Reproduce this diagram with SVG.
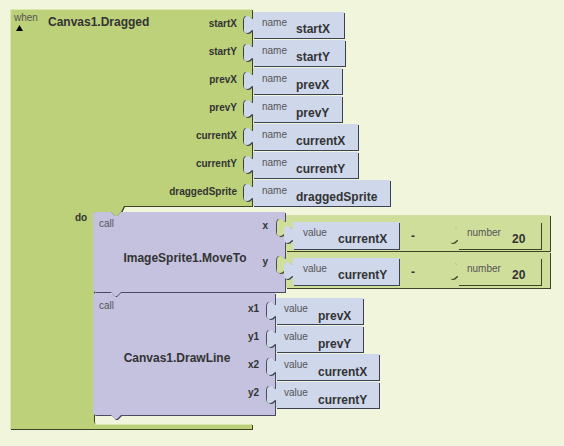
<svg xmlns="http://www.w3.org/2000/svg" width="564" height="446" viewBox="0 0 564 446">
<style>
.bg{fill:#f1f5dc}
.sh{fill:#3e4326}
.shp{fill:#4a4960}
.shb{fill:#3c4152}
.g{fill:#bdd07a}
.g2{fill:#d0de9c}
.p{fill:#c4c2df}
.b{fill:#cfd7eb}
text{font-family:"Liberation Sans",Arial,sans-serif}
.lb{font-size:10px;font-weight:bold;fill:#333}
.sm{font-size:10px;fill:#555}
.vb{font-size:12px;font-weight:bold;fill:#333}
</style>
<defs>
<path id="pMain" d="M10,12 Q10,9 13,9 H252 V19 c-4,0 -3,-3 -6,-3 c-3,0 -3,4 -3,8.5 c0,4.5 0,8.5 3,8.5 c4,0 3,-3 6,-3 V47 c-4,0 -3,-3 -6,-3 c-3,0 -3,4 -3,8.5 c0,4.5 0,8.5 3,8.5 c4,0 3,-3 6,-3 V75 c-4,0 -3,-3 -6,-3 c-3,0 -3,4 -3,8.5 c0,4.5 0,8.5 3,8.5 c4,0 3,-3 6,-3 V103 c-4,0 -3,-3 -6,-3 c-3,0 -3,4 -3,8.5 c0,4.5 0,8.5 3,8.5 c4,0 3,-3 6,-3 V131 c-4,0 -3,-3 -6,-3 c-3,0 -3,4 -3,8.5 c0,4.5 0,8.5 3,8.5 c4,0 3,-3 6,-3 V159 c-4,0 -3,-3 -6,-3 c-3,0 -3,4 -3,8.5 c0,4.5 0,8.5 3,8.5 c4,0 3,-3 6,-3 V187 c-4,0 -3,-3 -6,-3 c-3,0 -3,4 -3,8.5 c0,4.5 0,8.5 3,8.5 c4,0 3,-3 6,-3 V206 H124 L121,212 L117,216 H115 L111,212 H97 Q94,212 94,215 V421 Q94,424 97,424 H252 V429 H10 Z"/>
<path id="pMove" d="M93,215 Q93,212 96,212 H111 L115,216 H117 L121,212 H285 V222 c-4,0 -3,-3 -6,-3 c-3,0 -3,4 -3,8.5 c0,4.5 0,8.5 3,8.5 c4,0 3,-3 6,-3 V259 c-4,0 -3,-3 -6,-3 c-3,0 -3,4 -3,8.5 c0,4.5 0,8.5 3,8.5 c4,0 3,-3 6,-3 V292 H121 L117,296 H115 L111,292 H96 Q93,292 93,289 Z"/>
<path id="pDraw" d="M93,296 Q93,293 96,293 H111 L115,297 H117 L121,293 H275 V305 c-4,0 -3,-3 -6,-3 c-3,0 -3,4 -3,8.5 c0,4.5 0,8.5 3,8.5 c4,0 3,-3 6,-3 V333 c-4,0 -3,-3 -6,-3 c-3,0 -3,4 -3,8.5 c0,4.5 0,8.5 3,8.5 c4,0 3,-3 6,-3 V361 c-4,0 -3,-3 -6,-3 c-3,0 -3,4 -3,8.5 c0,4.5 0,8.5 3,8.5 c4,0 3,-3 6,-3 V389 c-4,0 -3,-3 -6,-3 c-3,0 -3,4 -3,8.5 c0,4.5 0,8.5 3,8.5 c4,0 3,-3 6,-3 V415 H121 L117,419 H115 L111,415 H96 Q93,415 93,412 Z"/>
<path id="pN0" d="M253,12 H344 V38 H253 V30 c-3,0 -2,3 -6,3 c-3,0 -3,-4 -3,-8.5 c0,-4.5 0,-8.5 3,-8.5 c4,0 3,3 6,3 Z"/>
<path id="pN1" d="M253,40 H345 V66 H253 V58 c-3,0 -2,3 -6,3 c-3,0 -3,-4 -3,-8.5 c0,-4.5 0,-8.5 3,-8.5 c4,0 3,3 6,3 Z"/>
<path id="pN2" d="M253,68 H342 V94 H253 V86 c-3,0 -2,3 -6,3 c-3,0 -3,-4 -3,-8.5 c0,-4.5 0,-8.5 3,-8.5 c4,0 3,3 6,3 Z"/>
<path id="pN3" d="M253,96 H342 V122 H253 V114 c-3,0 -2,3 -6,3 c-3,0 -3,-4 -3,-8.5 c0,-4.5 0,-8.5 3,-8.5 c4,0 3,3 6,3 Z"/>
<path id="pN4" d="M253,124 H358 V150 H253 V142 c-3,0 -2,3 -6,3 c-3,0 -3,-4 -3,-8.5 c0,-4.5 0,-8.5 3,-8.5 c4,0 3,3 6,3 Z"/>
<path id="pN5" d="M253,152 H358 V178 H253 V170 c-3,0 -2,3 -6,3 c-3,0 -3,-4 -3,-8.5 c0,-4.5 0,-8.5 3,-8.5 c4,0 3,3 6,3 Z"/>
<path id="pN6" d="M253,180 H390 V206 H253 V198 c-3,0 -2,3 -6,3 c-3,0 -3,-4 -3,-8.5 c0,-4.5 0,-8.5 3,-8.5 c4,0 3,3 6,3 Z"/>
<path id="pS1" d="M286,215 H550 V251 H286 V233 c-3,0 -2,3 -6,3 c-3,0 -3,-4 -3,-8.5 c0,-4.5 0,-8.5 3,-8.5 c4,0 3,3 6,3 Z"/>
<path id="pS2" d="M286,252 H550 V288 H286 V270 c-3,0 -2,3 -6,3 c-3,0 -3,-4 -3,-8.5 c0,-4.5 0,-8.5 3,-8.5 c4,0 3,3 6,3 Z"/>
<path id="pV1" d="M293,222 H399 V249 H293 V240 c-3,0 -2,3 -6,3 c-3,0 -3,-4 -3,-8.5 c0,-4.5 0,-8.5 3,-8.5 c4,0 3,3 6,3 Z"/>
<path id="pU1" d="M458,222 H541 V249 H458 V240 c-3,0 -2,3 -6,3 c-3,0 -3,-4 -3,-8.5 c0,-4.5 0,-8.5 3,-8.5 c4,0 3,3 6,3 Z"/>
<path id="pV2" d="M293,258 H399 V285 H293 V276 c-3,0 -2,3 -6,3 c-3,0 -3,-4 -3,-8.5 c0,-4.5 0,-8.5 3,-8.5 c4,0 3,3 6,3 Z"/>
<path id="pU2" d="M458,258 H541 V285 H458 V276 c-3,0 -2,3 -6,3 c-3,0 -3,-4 -3,-8.5 c0,-4.5 0,-8.5 3,-8.5 c4,0 3,3 6,3 Z"/>
<path id="pD0" d="M276,298 H363 V324 H276 V316 c-3,0 -2,3 -6,3 c-3,0 -3,-4 -3,-8.5 c0,-4.5 0,-8.5 3,-8.5 c4,0 3,3 6,3 Z"/>
<path id="pD1" d="M276,326 H363 V352 H276 V344 c-3,0 -2,3 -6,3 c-3,0 -3,-4 -3,-8.5 c0,-4.5 0,-8.5 3,-8.5 c4,0 3,3 6,3 Z"/>
<path id="pD2" d="M276,354 H379 V380 H276 V372 c-3,0 -2,3 -6,3 c-3,0 -3,-4 -3,-8.5 c0,-4.5 0,-8.5 3,-8.5 c4,0 3,3 6,3 Z"/>
<path id="pD3" d="M276,382 H379 V408 H276 V400 c-3,0 -2,3 -6,3 c-3,0 -3,-4 -3,-8.5 c0,-4.5 0,-8.5 3,-8.5 c4,0 3,3 6,3 Z"/>
</defs>
<rect class="bg" x="0" y="0" width="564" height="446"/>

<g id="canvas1-dragged">
<use href="#pMain" class="sh" transform="translate(1,1)"/>
<use href="#pMain" class="g"/>
<path d="M10.5,428 V12 Q10.5,9.5 13,9.5 H251.5" fill="none" stroke="#dbe7ad" stroke-width="1"/>
<text class="sm" x="14" y="21">when</text>
<polygon points="16,31 19.5,25 23,31" fill="#000"/>
<text class="vb" x="48" y="26">Canvas1.Dragged</text>
<g class="lb" text-anchor="end">
<text x="237" y="27">startX</text>
<text x="237" y="55">startY</text>
<text x="237" y="83">prevX</text>
<text x="237" y="111">prevY</text>
<text x="237" y="139">currentX</text>
<text x="237" y="167">currentY</text>
<text x="237" y="195">draggedSprite</text>
</g>
<text class="lb" x="75" y="221">do</text>
<path d="M95,424.5 H251" fill="none" stroke="#dbe7ad" stroke-width="1"/>
</g>

<g id="name-startX">
<use href="#pN0" class="shb" transform="translate(1,1)"/><use href="#pN0" class="b"/>
<text class="sm" x="262" y="26">name</text><text class="vb" x="296" y="33">startX</text>
</g>
<g id="name-startY">
<use href="#pN1" class="shb" transform="translate(1,1)"/><use href="#pN1" class="b"/>
<text class="sm" x="262" y="54">name</text><text class="vb" x="296" y="61">startY</text>
</g>
<g id="name-prevX">
<use href="#pN2" class="shb" transform="translate(1,1)"/><use href="#pN2" class="b"/>
<text class="sm" x="262" y="82">name</text><text class="vb" x="296" y="89">prevX</text>
</g>
<g id="name-prevY">
<use href="#pN3" class="shb" transform="translate(1,1)"/><use href="#pN3" class="b"/>
<text class="sm" x="262" y="110">name</text><text class="vb" x="296" y="117">prevY</text>
</g>
<g id="name-currentX">
<use href="#pN4" class="shb" transform="translate(1,1)"/><use href="#pN4" class="b"/>
<text class="sm" x="262" y="138">name</text><text class="vb" x="296" y="145">currentX</text>
</g>
<g id="name-currentY">
<use href="#pN5" class="shb" transform="translate(1,1)"/><use href="#pN5" class="b"/>
<text class="sm" x="262" y="166">name</text><text class="vb" x="296" y="173">currentY</text>
</g>
<g id="name-draggedSprite">
<use href="#pN6" class="shb" transform="translate(1,1)"/><use href="#pN6" class="b"/>
<text class="sm" x="262" y="194">name</text><text class="vb" x="296" y="201">draggedSprite</text>
</g>

<g id="imagesprite1-moveto">
<use href="#pMove" class="shp" transform="translate(1,1)"/>
<use href="#pMove" class="p"/>
<text class="sm" x="99" y="227">call</text>
<text class="vb" x="185" y="262" text-anchor="middle">ImageSprite1.MoveTo</text>
<text class="lb" x="268" y="229" text-anchor="end">x</text>
<text class="lb" x="268" y="265" text-anchor="end">y</text>
</g>

<g id="minus-x">
<use href="#pS1" class="sh" transform="translate(1,1)"/><use href="#pS1" class="g2"/>
<text class="vb" x="413" y="240" text-anchor="middle">-</text>
</g>
<g id="value-currentX-1">
<use href="#pV1" class="shb" transform="translate(1,1)"/><use href="#pV1" class="b"/>
<text class="sm" x="303" y="236">value</text><text class="vb" x="338" y="243">currentX</text>
</g>
<g id="number-20-1">
<use href="#pU1" class="sh" transform="translate(1,1)"/><use href="#pU1" class="g2"/>
<text class="sm" x="467" y="236">number</text><text class="vb" x="512" y="243">20</text>
</g>

<g id="minus-y">
<use href="#pS2" class="sh" transform="translate(1,1)"/><use href="#pS2" class="g2"/>
<text class="vb" x="413" y="276" text-anchor="middle">-</text>
</g>
<g id="value-currentY-1">
<use href="#pV2" class="shb" transform="translate(1,1)"/><use href="#pV2" class="b"/>
<text class="sm" x="303" y="272">value</text><text class="vb" x="338" y="279">currentY</text>
</g>
<g id="number-20-2">
<use href="#pU2" class="sh" transform="translate(1,1)"/><use href="#pU2" class="g2"/>
<text class="sm" x="467" y="272">number</text><text class="vb" x="512" y="279">20</text>
</g>

<g id="canvas1-drawline">
<use href="#pDraw" class="shp" transform="translate(1,1)"/>
<use href="#pDraw" class="p"/>
<text class="sm" x="99" y="309">call</text>
<text class="vb" x="177" y="362" text-anchor="middle">Canvas1.DrawLine</text>
<g class="lb" text-anchor="end">
<text x="259" y="312">x1</text>
<text x="259" y="340">y1</text>
<text x="259" y="368">x2</text>
<text x="259" y="396">y2</text>
</g>
</g>

<g id="value-prevX">
<use href="#pD0" class="shb" transform="translate(1,1)"/><use href="#pD0" class="b"/>
<text class="sm" x="284" y="312">value</text><text class="vb" x="318" y="320">prevX</text>
</g>
<g id="value-prevY">
<use href="#pD1" class="shb" transform="translate(1,1)"/><use href="#pD1" class="b"/>
<text class="sm" x="284" y="340">value</text><text class="vb" x="318" y="348">prevY</text>
</g>
<g id="value-currentX-2">
<use href="#pD2" class="shb" transform="translate(1,1)"/><use href="#pD2" class="b"/>
<text class="sm" x="284" y="368">value</text><text class="vb" x="318" y="376">currentX</text>
</g>
<g id="value-currentY-2">
<use href="#pD3" class="shb" transform="translate(1,1)"/><use href="#pD3" class="b"/>
<text class="sm" x="284" y="396">value</text><text class="vb" x="318" y="404">currentY</text>
</g>

<g id="connectors"></g>
</svg>
